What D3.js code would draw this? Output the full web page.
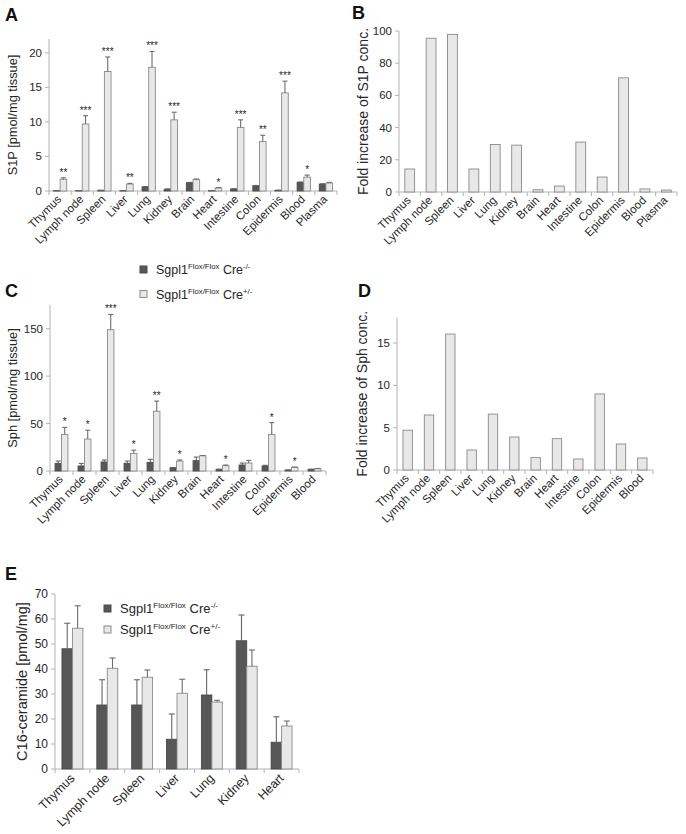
<!DOCTYPE html>
<html><head><meta charset="utf-8">
<script src="https://cdn.jsdelivr.net/npm/d3@7"></script>
<style>body{margin:0;background:#fff}svg{display:block;font-family:Arial,"Liberation Sans",sans-serif}</style>
</head><body>
<script>
// ---------- DATA ----------
const tissuesA = ["Thymus","Lymph node","Spleen","Liver","Lung","Kidney","Brain","Heart","Intestine","Colon","Epidermis","Blood","Plasma"];
const s1pKO   = [0.05,0.05,0.1,0.05,0.6,0.25,1.2,0.05,0.3,0.77,0.1,1.26,1.0];
const s1pKOErr= [0.05,0.05,0.1,0.05,0.65,0.3,1.25,0.05,0.32,0.8,0.12,1.3,1.05];
const s1pCre  = [1.7,9.7,17.3,1.0,17.9,10.3,1.64,0.43,9.2,7.15,14.2,2.0,1.15];
const s1pCreErr=[1.9,10.9,19.4,1.1,20.2,11.4,1.74,0.5,10.3,8.07,15.9,2.3,1.25];
const s1pStars= ["**","***","***","**","***","***","","*","***","**","***","*",""];
const s1pFold = [14.3,95.5,97.9,14.3,29.5,29.1,1.4,3.7,31,9.3,70.9,1.9,1.2];

const tissuesC = ["Thymus","Lymph node","Spleen","Liver","Lung","Kidney","Brain","Heart","Intestine","Colon","Epidermis","Blood"];
const sphKO    = [8.1,5.3,9.5,8.1,9.1,3.5,10.9,1.75,6.3,5.3,1.0,1.75];
const sphKOErr = [10.5,8,11.6,10.5,12.3,3.6,14.7,1.9,8.4,6.0,1.1,1.9];
const sphCre   = [38.6,33.7,149,18.6,63,10.5,16.1,5.6,8.4,38.6,3.9,2.5];
const sphCreErr= [46,43,165,22,73.7,11.6,16.3,6.3,11.2,51,4.2,2.6];
const sphStars = ["*","*","***","*","**","*","","*","","*","*",""];
const sphFold  = [4.7,6.5,16.06,2.36,6.6,3.9,1.46,3.7,1.3,8.98,3.07,1.42];

const tissuesE = ["Thymus","Lymph node","Spleen","Liver","Lung","Kidney","Heart"];
const cerKO    = [48.1,25.6,25.6,11.9,29.6,51.3,10.7];
const cerKOErr = [58.3,35.7,35.7,22,39.7,61.6,20.9];
const cerCre   = [56.3,40.3,36.7,30.3,26.8,41.1,17.2];
const cerCreErr= [65.3,44.4,39.6,35.9,27.5,47.6,19.2];

const ticksA = [0,5,10,15,20];
const ticksB = [0,20,40,60,80,100];
const ticksC = [0,50,100,150];
const ticksD = [0,5,10,15];
const ticksE = [0,10,20,30,40,50,60,70];

// ---------- STYLE ----------
const DARK="#575757", LIGHT="#e8e8e8", LSTROKE="#8a8a8a", AXIS="#b3b3b3", TXT="#262626";

const svg = d3.select("body").append("svg").attr("width",686).attr("height",834);

function panel(o){
  const g = svg.append("g");
  const x = d3.scaleBand().domain(o.cats).range([o.x0,o.x1]).padding(0);
  const y = d3.scaleLinear().domain(o.domain).range([o.y0,o.yTop]);
  const bw = x.bandwidth();
  g.append("line").attr("x1",o.x0).attr("x2",o.x0).attr("y1",y(o.domain[0])).attr("y2",y(o.domain[1])).attr("stroke",AXIS);
  g.selectAll(null).data(o.ticks).join("line").attr("x1",o.x0-4).attr("x2",o.x0).attr("y1",d=>y(d)).attr("y2",d=>y(d)).attr("stroke",AXIS);
  g.selectAll(null).data(o.ticks).join("text").attr("x",o.x0-7).attr("y",d=>y(d)).attr("dy","0.35em")
    .attr("text-anchor","end").attr("font-size",o.tickFs).attr("fill",TXT).text(d=>d);
  g.append("line").attr("x1",o.x0).attr("x2",o.x1).attr("y1",o.y0).attr("y2",o.y0).attr("stroke",AXIS);
  const bounds = o.cats.map(c=>x(c)).concat([o.x1]);
  g.selectAll(null).data(bounds).join("line").attr("x1",d=>d).attr("x2",d=>d).attr("y1",o.y0).attr("y2",o.y0+4).attr("stroke",AXIS);
  g.selectAll(null).data(o.cats).join("text")
    .attr("transform",d=>`translate(${x(d)+bw/2+o.lblDx},${o.y0+o.lblDy}) rotate(-45)`)
    .attr("text-anchor","end").attr("font-size",o.xFs).attr("fill",TXT).text(d=>d);
  g.append("text").attr("transform",`translate(${o.ylx},${(o.y0+o.yTop)/2}) rotate(-90)`).attr("dy","0.35em")
    .attr("text-anchor","middle").attr("font-size",o.yFs).attr("fill",TXT).text(o.ylabel);
  g.append("text").attr("x",o.lx).attr("y",o.ly).attr("font-size",18).attr("font-weight","bold").attr("fill","#111").text(o.letter);

  const series = o.series;
  const n = series.length;
  const w = bw*o.barFrac;
  series.forEach((s,si)=>{
    const off = n===1 ? -w/2 : (si===0 ? -w : 0);
    g.selectAll(null).data(s.vals).join("rect")
      .attr("x",(d,i)=>x(o.cats[i])+bw/2+off).attr("width",w)
      .attr("y",d=>y(d)).attr("height",d=>Math.max(0,o.y0-y(d)))
      .attr("fill",s.fill).attr("stroke",s.stroke).attr("stroke-width",0.9);
    if(s.err){
      const cx = (i)=>x(o.cats[i])+bw/2+off+w/2;
      g.selectAll(null).data(s.err).join("line").attr("x1",(d,i)=>cx(i)).attr("x2",(d,i)=>cx(i))
        .attr("y1",(d,i)=>y(s.vals[i])).attr("y2",d=>y(d)).attr("stroke",s.errC).attr("stroke-width",1.1);
      g.selectAll(null).data(s.err).join("line").attr("x1",(d,i)=>cx(i)-o.cap).attr("x2",(d,i)=>cx(i)+o.cap)
        .attr("y1",d=>y(d)).attr("y2",d=>y(d)).attr("stroke",s.errC).attr("stroke-width",1.1);
    }
    if(s.stars){
      g.selectAll(null).data(s.stars).join("text").attr("x",(d,i)=>x(o.cats[i])+bw/2+off+w/2)
        .attr("y",(d,i)=>y(s.err[i])-2).attr("text-anchor","middle").attr("font-size",10).attr("fill",TXT).text(d=>d);
    }
  });
}

panel({letter:"A",lx:5,ly:21,cats:tissuesA,x0:49,x1:337,y0:191,yTop:39,domain:[0,22],ticks:ticksA,
  tickFs:11.5,xFs:11.5,yFs:12.8,ylx:13,ylabel:"S1P [pmol/mg tissue]",lblDx:2,lblDy:9,barFrac:0.3,cap:2.5,
  series:[{vals:s1pKO,err:s1pKOErr,fill:DARK,stroke:"#4a4a4a",errC:"#666"},
          {vals:s1pCre,err:s1pCreErr,fill:LIGHT,stroke:LSTROKE,errC:"#6e6e6e",stars:s1pStars}]});

panel({letter:"B",lx:352,ly:19,cats:tissuesA,x0:399,x1:677,y0:192,yTop:31,domain:[0,100],ticks:ticksB,
  tickFs:11.5,xFs:11.5,yFs:14,ylx:363,ylabel:"Fold increase of S1P conc.",lblDx:2,lblDy:9,barFrac:0.46,cap:0,
  series:[{vals:s1pFold,fill:LIGHT,stroke:LSTROKE}]});

panel({letter:"C",lx:5,ly:297,cats:tissuesC,x0:50,x1:326,y0:471,yTop:305,domain:[0,175],ticks:ticksC,
  tickFs:11.5,xFs:11.5,yFs:12.8,ylx:13,ylabel:"Sph [pmol/mg tissue]",lblDx:2,lblDy:9,barFrac:0.28,cap:2.5,
  series:[{vals:sphKO,err:sphKOErr,fill:DARK,stroke:"#4a4a4a",errC:"#666"},
          {vals:sphCre,err:sphCreErr,fill:LIGHT,stroke:LSTROKE,errC:"#6e6e6e",stars:sphStars}]});

panel({letter:"D",lx:358,ly:297,cats:tissuesC,x0:397,x1:653,y0:470,yTop:317.6,domain:[0,18],ticks:ticksD,
  tickFs:11.5,xFs:11.5,yFs:14,ylx:362,ylabel:"Fold increase of Sph conc.",lblDx:2,lblDy:9,barFrac:0.44,cap:0,
  series:[{vals:sphFold,fill:LIGHT,stroke:LSTROKE}]});

panel({letter:"E",lx:5,ly:580,cats:tissuesE,x0:55,x1:299,y0:769,yTop:594,domain:[0,70],ticks:ticksE,
  tickFs:12,xFs:12.5,yFs:14.5,ylx:22,ylabel:"C16-ceramide [pmol/mg]",lblDx:3,lblDy:10,barFrac:0.3,cap:3,
  series:[{vals:cerKO,err:cerKOErr,fill:DARK,stroke:"#4a4a4a",errC:"#666"},
          {vals:cerCre,err:cerCreErr,fill:LIGHT,stroke:LSTROKE,errC:"#6e6e6e"}]});

function legend(x,y,fs,sq,gap){
  const items=[{fill:DARK,stroke:"#4a4a4a",sup:"-/-"},{fill:LIGHT,stroke:LSTROKE,sup:"+/-"}];
  items.forEach((it,i)=>{
    const yy=y+i*gap;
    svg.append("rect").attr("x",x).attr("y",yy-sq-1).attr("width",sq).attr("height",sq).attr("fill",it.fill).attr("stroke",it.stroke);
    const t=svg.append("text").attr("x",x+sq+9).attr("y",yy).attr("font-size",fs).attr("fill",TXT);
    t.append("tspan").text("Sgpl1");
    t.append("tspan").attr("font-size",fs*0.62).attr("dy",-fs*0.38).text("Flox/Flox");
    t.append("tspan").attr("dy",fs*0.38).text(" Cre");
    t.append("tspan").attr("font-size",fs*0.62).attr("dy",-fs*0.38).text(it.sup);
  });
}
legend(140,274,12.5,7,24.5);
legend(104,613,13,7,21);
</script>
</body></html>
